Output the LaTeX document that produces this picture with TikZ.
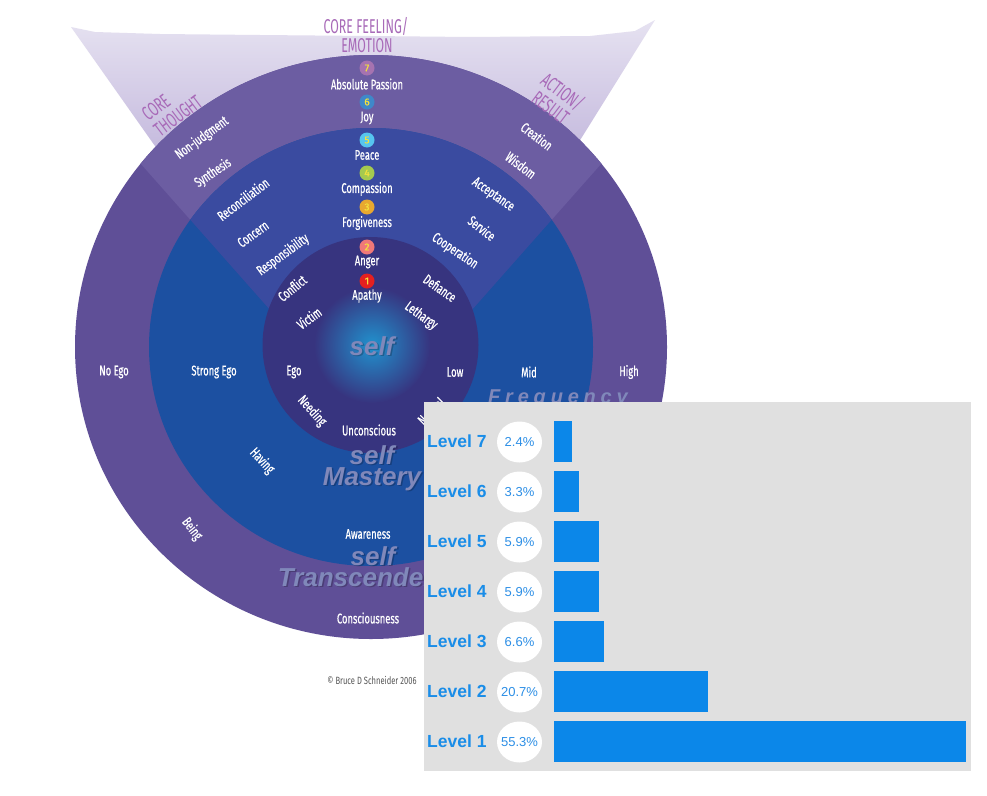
\documentclass[tikz,border=0pt]{standalone}
\usepackage{fontspec}
\usetikzlibrary{shapes.geometric}
\newfontfamily\condf[FakeBold=0.8]{Fira Sans}
\newfontfamily\hdrf{Fira Sans}
\newfontfamily\arialf{Liberation Sans}
\definecolor{lavtop}{HTML}{E6E2F1}
\definecolor{lavbot}{HTML}{BBAED8}
\definecolor{outerc}{HTML}{5F4F97}
\definecolor{outerw}{HTML}{6C5DA2}
\definecolor{midc}{HTML}{1C50A1}
\definecolor{midw}{HTML}{3A4BA0}
\definecolor{innerc}{HTML}{37347F}
\definecolor{glowc}{HTML}{2192CE}
\definecolor{hdrc}{HTML}{A86AB8}
\definecolor{bigc}{HTML}{8088BA}
\definecolor{cA}{HTML}{A673B0}
\definecolor{cB}{HTML}{3F88C9}
\definecolor{cC}{HTML}{56C5EF}
\definecolor{cD}{HTML}{A5C94F}
\definecolor{cE}{HTML}{E8A830}
\definecolor{cF}{HTML}{F07878}
\definecolor{cG}{HTML}{E42020}
\definecolor{numc}{HTML}{F5E23C}
\definecolor{chartbg}{HTML}{E0E0E0}
\definecolor{barc}{HTML}{0B87E9}
\definecolor{levc}{HTML}{1A8DE8}
\definecolor{pctc}{HTML}{2D8FE6}
\definecolor{copyc}{HTML}{555555}
\begin{document}
\begin{tikzpicture}[x=1pt,y=-1pt,
  lbl/.style={font=\condf\fontsize{14}{14}\selectfont, text=white, inner sep=0pt, xscale=0.67},
  badge/.style={circle, minimum size=15pt, inner sep=0pt, text=numc, font=\condf\fontsize{10}{10}\selectfont},
  hdr/.style={font=\hdrf\fontsize{20}{20}\selectfont, text=hdrc, inner sep=0pt, xscale=0.62},
  big/.style={font=\arialf\bfseries\itshape\fontsize{26}{21}\selectfont, text=bigc, align=center, inner sep=0pt},
  shad/.style={font=\arialf\bfseries\itshape\fontsize{26}{21}\selectfont, text=black, opacity=0.22, align=center, inner sep=0pt},
  levs/.style={font=\arialf\bfseries\fontsize{17.5}{17.5}\selectfont, text=levc, inner sep=0pt},
  pcts/.style={inner sep=0pt, text=pctc, font=\arialf\fontsize{13}{13}\selectfont}
]
\useasboundingbox (0,0) rectangle (987,795);
\fill[white] (0,0) rectangle (987,795);
% lavender wedge behind the wheel
\shade[top color=lavtop, bottom color=lavbot] (71,27) -- (95,32) -- (160,34) -- (260,35) -- (370,36) -- (470,37) -- (590,36) -- (635,31) -- (655,20) -- (549,190) -- (186,190) -- cycle;
% outer ring
\fill[outerc] (371,347) ellipse [x radius=296pt, y radius=292pt];
\begin{scope}
  \clip (371,347) ellipse [x radius=296pt, y radius=292pt];
  \fill[outerw] (10,16) -- (732,16) -- (371,424) -- cycle;
\end{scope}
% middle ring
\fill[midc] (371,347) ellipse [x radius=222pt, y radius=219pt];
\begin{scope}
  \clip (371,347) ellipse [x radius=222pt, y radius=219pt];
  \fill[midw] (10,16) -- (732,16) -- (371,424) -- cycle;
\end{scope}
% inner circle
\fill[innerc] (370.5,345) circle [radius=108pt];
\shade[inner color=glowc, outer color=innerc] (372,345) circle [radius=58pt];

% headers
\node[hdr, anchor=base] (hfeel1) at (366,33) {CORE FEELING/};
\node[hdr, anchor=base] (hfeel2) at (367,52) {EMOTION};
\node[rotate=37, hdr, align=left] (hthought) at (172,108) {CORE\\THOUGHT};
\node[rotate=-37, hdr, align=center] (haction) at (557,99) {ACTION/\\RESULT};

% central column
\node[badge, fill=cA] (b7) at (367,68) {7};
\node[lbl] (t7) at (367,84) {Absolute Passion};
\node[badge, fill=cB] (b6) at (367,102) {6};
\node[lbl] (t6) at (367,118) {Joy};
\node[badge, fill=cC] (b5) at (367,140) {5};
\node[lbl] (t5) at (367,155) {Peace};
\node[badge, fill=cD] (b4) at (367,173) {4};
\node[lbl] (t4) at (367,189) {Compassion};
\node[badge, fill=cE] (b3) at (367,207) {3};
\node[lbl] (t3) at (367,223) {Forgiveness};
\node[badge, fill=cF] (b2) at (367,247) {2};
\node[lbl] (t2) at (367,262) {Anger};
\node[badge, fill=cG] (b1) at (367,281) {1};
\node[lbl] (t1) at (367,296) {Apathy};

% left diagonal labels
\node[rotate=36, lbl] (nonj) at (202,138) {Non-judgment};
\node[rotate=34, lbl] (synth) at (213,173) {Synthesis};
\node[rotate=37, lbl] (recon) at (243,199) {Reconciliation};
\node[rotate=36, lbl] (concern) at (253,234) {Concern};
\node[rotate=36, lbl] (resp) at (283,255) {Responsibility};
\node[rotate=39, lbl] (conflict) at (292,288) {Conflict};
\node[rotate=36, lbl] (victim) at (309,318) {Victim};
% right diagonal labels
\node[rotate=-37, lbl] (creation) at (537,136) {Creation};
\node[rotate=-37, lbl] (wisdom) at (521,165) {Wisdom};
\node[rotate=-35, lbl] (accept) at (493,195) {Acceptance};
\node[rotate=-38, lbl] (service) at (482,228) {Service};
\node[rotate=-34, lbl] (coop) at (455,251) {Cooperation};
\node[rotate=-35, lbl] (defiance) at (440,288) {Defiance};
\node[rotate=-36, lbl] (lethargy) at (421,316) {Lethargy};
% horizontal row
\node[lbl] (noego) at (114,372) {No Ego};
\node[lbl] (strongego) at (214,372) {Strong Ego};
\node[lbl] (ego) at (294,372) {Ego};
\node[lbl] (low) at (455,372) {Low};
\node[lbl] (mid) at (529,372) {Mid};
\node[lbl] (high) at (629,372) {High};
% lower labels
\node[rotate=-48, lbl] (needing) at (312,411) {Needing};
\node[lbl] (uncon) at (369,430) {Unconscious};
\node[rotate=45, lbl] (neutral) at (431,411) {Neutral};
\node[rotate=-47, lbl] (having) at (262,461) {Having};
\node[rotate=-52, lbl] (being) at (192,529) {Being};
\node[lbl] (aware) at (368,534) {Awareness};
\node[lbl] (consc) at (368,618) {Consciousness};

% big grey words
\node[shad, anchor=base] (selfS) at (373.5,356.5) {self};
\node[big, anchor=base] (self) at (372,355) {self};
\node[shad, anchor=base] (mastS) at (373.5,486.5) {self\\Mastery};
\node[big, anchor=base] (mast) at (372,485) {self\\Mastery};
\node[shad, anchor=base] (transS) at (374.5,587.5) {self\\Transcendence};
\node[big, anchor=base] (trans) at (373,586) {self\\Transcendence};
\node[anchor=base, inner sep=0pt, text=bigc, font=\arialf\bfseries\itshape\fontsize{20}{20}\selectfont\addfontfeatures{LetterSpace=24}] (freq) at (558,403) {Frequency};

% copyright
\node[anchor=base, inner sep=0pt, text=copyc, font=\hdrf\fontsize{10.5}{10.5}\selectfont, xscale=0.72] (copy) at (372,684) {\textcopyright\ Bruce D Schneider 2006};

% chart
\fill[chartbg] (424,402) rectangle (971,771);
\foreach \lv/\pc/\xe [count=\i] in {7/2.4/572,6/3.3/579,5/5.9/599,4/5.9/599,3/6.6/604,2/20.7/708,1/55.3/966} {
  \pgfmathsetmacro\yy{441+(\i-1)*50}
  \node[levs, anchor=west] (lev\lv) at (427,\yy) {Level \lv};
  \fill[white] (519.5,{\yy+1}) ellipse [x radius=22.5pt, y radius=20.5pt];
  \node[pcts] (pct\lv) at (519.5,{\yy+1}) {\pc\%};
  \fill[barc] (554,{\yy-20.5}) rectangle (\xe,{\yy+21});
}
\end{tikzpicture}
\end{document}
